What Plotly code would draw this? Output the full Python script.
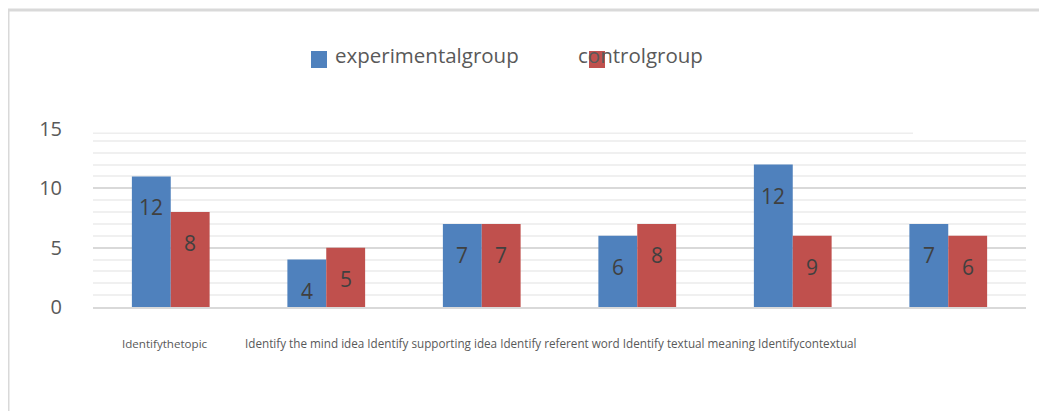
import plotly.graph_objects as go

# ---- data ----
categories = ["Identifythetopic", "Identify the mind idea", "Identify supporting idea",
              "Identify referent word", "Identify textual meaning", "Identifycontextual"]
series_names = ["experimentalgroup", "controlgroup"]
experimental = [11, 4, 7, 6, 12, 7]
control = [8, 5, 7, 7, 6, 6]
experimental_labels = ["12", "4", "7", "6", "12", "7"]
control_labels = ["8", "5", "7", "8", "9", "6"]
y_ticks = [0, 5, 10, 15]

# ---- layout geometry (window pixels); page body has an 8px margin ----
O = 8
W, H = 1047 - O, 411 - O
L, R, T, B = 93, 1026, 129, 307


def px(x):
    return (x - L) / (R - L)


def py(y):
    return (B - y) / (B - T)


BLUE = "#4f81bd"
RED = "#c0504d"
TXT = "#595959"
FONT = "Open Sans"
BARGAP = 0.5

xs = list(range(len(categories)))
fig = go.Figure()
fig.add_trace(go.Bar(x=xs, y=experimental, name=series_names[0], marker_color=BLUE,
                     marker_line_width=0, showlegend=False))
fig.add_trace(go.Bar(x=xs, y=control, name=series_names[1], marker_color=RED,
                     marker_line_width=0, showlegend=False))

annotations = []
off = (1 - BARGAP) / 4
for i in xs:
    for val, lab, sgn in ((experimental[i], experimental_labels[i], -1),
                          (control[i], control_labels[i], 1)):
        annotations.append(dict(x=i + sgn * off, y=val, xref="x", yref="y", text=lab,
                                showarrow=False, yshift=-31, yanchor="middle",
                                font=dict(family=FONT, size=21, color="#404040")))

# category text line (rendered as in the reference: first alone, rest run together)
annotations.append(dict(x=px(120), y=py(343), xref="paper", yref="paper", text=categories[0],
                        showarrow=False, xanchor="left", yanchor="middle",
                        font=dict(family=FONT, size=11.6, color=TXT)))
annotations.append(dict(x=px(243), y=py(343), xref="paper", yref="paper",
                        text=" ".join(categories[1:]), showarrow=False, xanchor="left",
                        yanchor="middle", font=dict(family=FONT, size=11.7, color=TXT)))

# manual legend (swatches first, so the text is drawn over them)
for x0, col in ((311, BLUE), (589, RED)):
    annotations.append(dict(x=px(x0), y=py(51), xref="paper", yref="paper", text=" ",
                            showarrow=False, xanchor="left", yanchor="top", width=16, height=17,
                            bgcolor=col, borderpad=0, borderwidth=0,
                            font=dict(size=1)))
annotations.append(dict(x=px(333), y=py(55), xref="paper", yref="paper", text=series_names[0],
                        showarrow=False, xanchor="left", yanchor="middle",
                        font=dict(family=FONT, size=20.5, color=TXT)))
annotations.append(dict(x=px(576), y=py(55), xref="paper", yref="paper", text=series_names[1],
                        showarrow=False, xanchor="left", yanchor="middle",
                        font=dict(family=FONT, size=20.5, color=TXT)))

shapes = [
    # outer frame
    dict(type="rect", xref="paper", yref="paper", x0=px(8), x1=px(1070), y0=py(440), y1=py(10),
         line=dict(color="#d9d9d9", width=3), layer="below"),
    # hide minor line at 14, add the stray line slightly below 15
    dict(type="line", xref="paper", yref="y", x0=0, x1=1, y0=14, y1=14,
         line=dict(color="white", width=2), layer="between"),
    dict(type="line", xref="paper", yref="y", x0=0, x1=px(913), y0=14.64, y1=14.64,
         line=dict(color="#eeeeee", width=1.5), layer="between"),
]

fig.update_layout(
    width=W, height=H,
    margin=dict(l=L - O, r=W - (R - O), t=T - O, b=H - (B - O), pad=0),
    paper_bgcolor="white", plot_bgcolor="white",
    barmode="group", bargap=BARGAP, bargroupgap=0,
    annotations=annotations, shapes=shapes,
    font=dict(family=FONT, color=TXT),
)
fig.update_xaxes(range=[-0.5, len(categories) - 0.5], showticklabels=False, showgrid=False,
                 zeroline=False, showline=True, linecolor="#d9d9d9", linewidth=2, ticks="")
fig.update_yaxes(range=[0, 15], tickvals=y_ticks, showgrid=True, gridcolor="#d9d9d9",
                 gridwidth=1.5, zeroline=False, showline=False, ticks="",
                 tickfont=dict(family=FONT, size=20, color=TXT), ticklabelstandoff=30,
                 minor=dict(dtick=1, showgrid=True, gridcolor="#f0f0f0", gridwidth=1.5))

fig.write_html("out.html")
